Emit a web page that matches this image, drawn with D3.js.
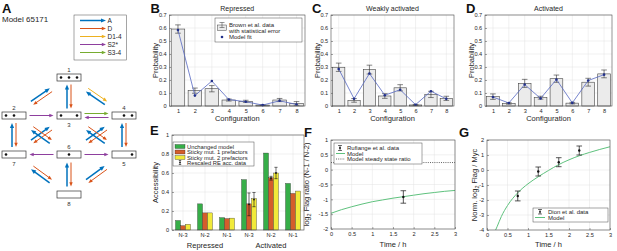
<!DOCTYPE html>
<html>
<head>
<meta charset="utf-8">
<script src="https://cdn.jsdelivr.net/npm/d3@7"></script>
<style>
    body { margin: 0; background: #fff; }
    svg { font-family: "Liberation Sans", Arial, sans-serif; }
</style>
</head>
<body>
<div id="figure"></div>
<script>

// ---- panel A: model network ----
const nodeIds = [1, 2, 3, 4, 5, 6, 7, 8];
const nodeOccupancy = ["111", "110", "101", "011", "001", "010", "100", "000"];
const transitionTypes = ["A", "D", "D1-4", "S2*", "S3-4"];
const transitions = [
    [2, 1, "A"], [1, 2, "D"], [3, 1, "A"], [1, 3, "D"], [4, 1, "A"], [1, 4, "D1-4"],
    [2, 3, "S2*"], [3, 4, "S3-4"], [4, 3, "S2*"],
    [7, 2, "A"], [2, 7, "D"], [7, 3, "A"], [3, 7, "D"], [6, 2, "A"], [2, 6, "D"],
    [6, 4, "A"], [4, 6, "D"], [5, 3, "A"], [3, 5, "D"], [5, 4, "A"], [4, 5, "D"],
    [6, 7, "S2*"], [6, 5, "S2*"],
    [8, 7, "A"], [7, 8, "D"], [8, 6, "A"], [6, 8, "D"], [8, 5, "A"], [5, 8, "D"]
];

// ---- panels B-D: configuration probabilities ----
const configurations = [1, 2, 3, 4, 5, 6, 7, 8];
const probTicks = [0, 0.1, 0.2, 0.3, 0.4, 0.5, 0.6, 0.7];

const repressedProb = [0.592, 0.118, 0.133, 0.046, 0.036, 0.007, 0.046, 0.02];
const repressedErr  = [0.032, 0.02, 0.024, 0.008, 0.008, 0.003, 0.012, 0.014];
const repressedFit  = [0.585, 0.08, 0.192, 0.05, 0.033, 0.007, 0.04, 0.012];

const weakProb = [0.298, 0.043, 0.28, 0.077, 0.14, 0.008, 0.089, 0.059];
const weakErr  = [0.032, 0.014, 0.034, 0.018, 0.024, 0.004, 0.024, 0.016];
const weakFit  = [0.285, 0.056, 0.25, 0.083, 0.125, 0.01, 0.114, 0.055];

const activatedProb = [0.072, 0.02, 0.174, 0.064, 0.21, 0.022, 0.183, 0.247];
const activatedErr  = [0.021, 0.006, 0.031, 0.011, 0.028, 0.006, 0.03, 0.03];
const activatedFit  = [0.069, 0.023, 0.165, 0.058, 0.204, 0.024, 0.196, 0.241];

// ---- panel E: accessibility ----
const accCategories = ["N-3", "N-2", "N-1", "N-3", "N-2", "N-1"];
const accGroups = ["Repressed", "Activated"];
const accTicks = [0, 0.2, 0.4, 0.6, 0.8, 1];
const accUnchanged = [0.10, 0.275, 0.13, 0.53, 0.81, 0.49];
const accSticky1 = [0.045, 0.18, 0.12, 0.275, 0.55, 0.385];
const accSticky2 = [0.06, 0.18, 0.125, 0.33, 0.60, 0.41];
const accDataIndex = [3, 4];
const accData1 = [0.27, 0.545];
const accErr1 = [0.12, 0.02];
const accData2 = [0.32, 0.60];
const accErr2 = [0.075, 0.06];

// ---- panel F: Flag ratio ----
const timeTicks = [0, 0.5, 1, 1.5, 2, 2.5, 3];
const ratioTicks = [-2, -1.5, -1, -0.5, 0, 0.5, 1];
const ratioModelTime = [0, 0.25, 0.5, 0.75, 1, 1.25, 1.5, 1.75, 2, 2.25, 2.5, 2.75, 3];
const ratioModel = [-1.47, -1.35, -1.25, -1.16, -1.08, -1.02, -0.96, -0.91, -0.86, -0.81, -0.77, -0.73, -0.7];
const ratioObsTime = [1.75];
const ratioObs = [-0.92];
const ratioObsErr = [0.21];
const steadyStateRatio = 0.24;

// ---- panel G: normalised Flag / Myc ----
const flagTicks = [-4, -3, -2, -1, 0, 1, 2];
const flagModelTime = [0.21, 0.25, 0.35, 0.5, 0.75, 1, 1.25, 1.5, 1.75, 2, 2.25, 2.5, 2.75, 3];
const flagModel = [-4.0, -3.75, -3.1, -2.37, -1.52, -0.92, -0.45, -0.03, 0.36, 0.68, 0.95, 1.17, 1.37, 1.55];
const dionTime = [0.75, 1.25, 1.75, 2.25];
const dionValue = [-1.73, -0.1, 0.52, 1.3];
const dionErr = [0.33, 0.3, 0.3, 0.3];


const svg = d3.select("#figure").append("svg")
    .attr("width", 617)
    .attr("height", 251);

const typeColor = d3.scaleOrdinal()
    .domain(transitionTypes)
    .range(["#0072BD", "#D95319", "#EDB120", "#8E3F9E", "#77AC30"]);

const axisColor = "#4d4d4d";
const textColor = "#262626";
const modelGreen = "#5fc27e";
const fmt = d => String(+d.toFixed(2));

function panelLetter(x, y, letter) {
    svg.append("text").attr("x", x).attr("y", y)
        .attr("font-size", 13).attr("font-weight", "bold").attr("fill", "#111")
        .text(letter);
}

function arrow(g, x1, y1, x2, y2, color, w) {
    let dx = x2 - x1, dy = y2 - y1, len = Math.hypot(dx, dy);
    let ux = dx / len, uy = dy / len;
    let hl = w > 1.2 ? 5 : 4.2, hw = w > 1.2 ? 2.1 : 1.7;
    let bx = x2 - ux * hl, by = y2 - uy * hl;
    g.append("line")
        .attr("x1", x1).attr("y1", y1).attr("x2", bx + ux).attr("y2", by + uy)
        .attr("stroke", color).attr("stroke-width", w);
    g.append("path")
        .attr("d", `M${x2},${y2}L${bx - uy * hw},${by + ux * hw}L${bx + uy * hw},${by - ux * hw}Z`)
        .attr("fill", color);
}

function styleAxis(sel) {
    sel.select(".domain").remove();
    sel.attr("font-family", null).attr("font-size", 5.6);
    sel.selectAll(".tick line").attr("stroke", axisColor).attr("stroke-width", 0.5);
    sel.selectAll(".tick text").attr("fill", textColor);
}

// grid, ticks and box in MATLAB style
function drawFrame(g, x, y, xTicks, yTicks, xFormat) {
    let [x0, x1] = x.range();
    let [y0, y1] = y.range();
    let gridX = xTicks.map(d => x.bandwidth ? x(d) + x.bandwidth() / 2 : x(d));

    g.append("g").selectAll("line").data(gridX).join("line")
        .attr("x1", d => d).attr("x2", d => d).attr("y1", y0).attr("y2", y1)
        .attr("stroke", "#e2e2e2").attr("stroke-width", 0.5);
    g.append("g").selectAll("line").data(yTicks).join("line")
        .attr("x1", x0).attr("x2", x1).attr("y1", d => y(d)).attr("y2", d => y(d))
        .attr("stroke", "#e2e2e2").attr("stroke-width", 0.5);

    g.append("g").attr("class", "x-axis")
        .attr("transform", `translate(0, ${y0})`)
        .call(d3.axisBottom(x).tickValues(xTicks).tickSize(-2).tickPadding(3.2).tickFormat(xFormat))
        .call(styleAxis);
    g.append("g").attr("class", "y-axis")
        .attr("transform", `translate(${x0}, 0)`)
        .call(d3.axisLeft(y).tickValues(yTicks).tickSize(-2).tickPadding(2.8).tickFormat(fmt))
        .call(styleAxis);
}

function drawBox(g, x0, x1, y0, y1) {
    g.append("rect")
        .attr("x", x0).attr("y", y1).attr("width", x1 - x0).attr("height", y0 - y1)
        .attr("fill", "none").attr("stroke", axisColor).attr("stroke-width", 0.6);
}

function axisLabels(g, xLabel, xPos, yPos, yLabelX, yLabelY, yLabel) {
    g.append("text")
        .attr("x", xPos).attr("y", yPos)
        .attr("text-anchor", "middle").attr("font-size", 7.5).attr("fill", textColor)
        .text(xLabel);
    let t = g.append("text")
        .attr("transform", `translate(${yLabelX}, ${yLabelY}) rotate(-90)`)
        .attr("text-anchor", "middle").attr("font-size", 7.5).attr("fill", textColor);
    yLabel(t);
}

function errorBar(g, cx, yTop, yBot, cap, color, w) {
    g.append("line").attr("x1", cx).attr("x2", cx).attr("y1", yTop).attr("y2", yBot)
        .attr("stroke", color).attr("stroke-width", w);
    [yTop, yBot].forEach(v => {
        g.append("line").attr("x1", cx - cap).attr("x2", cx + cap).attr("y1", v).attr("y2", v)
            .attr("stroke", color).attr("stroke-width", w);
    });
}

function legendBox(g, x, y, w, h) {
    g.append("rect").attr("x", x).attr("y", y).attr("width", w).attr("height", h)
        .attr("fill", "#fff").attr("stroke", axisColor).attr("stroke-width", 0.5);
}

function legendText(g, x, y, str, size) {
    g.append("text").attr("x", x).attr("y", y).attr("dy", "0.35em")
        .attr("font-size", size || 6).attr("fill", textColor).text(str);
}


/*
 *  Panel A - model network
 */
function drawNetwork() {
    let g = svg.append("g").attr("class", "network");
    panelLetter(2, 13, "A");
    g.append("text").attr("x", 2).attr("y", 21.5)
        .attr("font-size", 8).attr("fill", textColor).text("Model 65171");

    // legend
    legendBox(g, 74, 15, 52.5, 45);
    let legendY = d3.scalePoint().domain(transitionTypes).range([20.5, 52.5]);
    transitionTypes.forEach(t => {
        arrow(g, 80, legendY(t), 106, legendY(t), typeColor(t), t === "A" ? 1.5 : 1);
        legendText(g, 107.5, legendY(t) + 0.3, t, 6.5);
    });

    let grid = {1: [1, 0], 2: [0, 1], 3: [1, 1], 4: [2, 1], 5: [2, 2], 6: [1, 2], 7: [0, 2], 8: [1, 3]};
    let labelBelow = [3, 5, 7, 8];
    let colX = d3.scaleLinear().domain([0, 2]).range([14, 124]);
    let rowY = d3.scaleLinear().domain([0, 1, 2, 3]).range([77.5, 115.5, 154.5, 194.5]);
    let centre = id => [colX(grid[id][0]), rowY(grid[id][1])];

    // transitions as pairs of antiparallel arrows
    transitions.forEach(([from, to, type]) => {
        let [x1, y1] = centre(from), [x2, y2] = centre(to);
        let paired = transitions.some(t => t[0] === to && t[1] === from);
        let dx = x2 - x1, dy = y2 - y1, len = Math.hypot(dx, dy);
        let ux = dx / len, uy = dy / len;
        let off = paired ? 2 : 0;
        let L = (dx !== 0 && dy !== 0) ? 23 : 24;
        let mx = (x1 + x2) / 2 + uy * off, my = (y1 + y2) / 2 - ux * off;
        arrow(g, mx - ux * L / 2, my - uy * L / 2, mx + ux * L / 2, my + uy * L / 2,
            typeColor(type), type === "A" ? 1.5 : 1);
    });

    // configuration boxes
    nodeIds.forEach((id, i) => {
        let [cx, cy] = centre(id);
        g.append("rect").attr("x", cx - 12).attr("y", cy - 3.5).attr("width", 24).attr("height", 7)
            .attr("fill", "#fff").attr("stroke", "#333").attr("stroke-width", 0.7);
        nodeOccupancy[i].split("").forEach((o, k) => {
            if (o === "1") {
                g.append("circle").attr("cx", cx - 8 + k * 8).attr("cy", cy).attr("r", 1.3).attr("fill", "#111");
            }
        });
        let below = labelBelow.includes(id);
        g.append("text").attr("x", cx).attr("y", below ? cy + 11.5 : cy - 5.5)
            .attr("text-anchor", "middle").attr("font-size", 6).attr("fill", "#333").text(id);
    });
}


/*
 *  Panels B-D - configuration probabilities
 */
function drawConfigPanel(letter, title, area, prob, err, fit, withLegend) {
    let g = svg.append("g");
    let x = d3.scaleLinear().domain([0.5, 8.5]).range([area.left, area.right]);
    let y = d3.scaleLinear().domain([0, 0.7]).range([area.bottom, area.top]);

    panelLetter(area.left - 19, 13, letter);
    g.append("text").attr("x", (area.left + area.right) / 2).attr("y", 11)
        .attr("text-anchor", "middle").attr("font-size", 7).attr("fill", textColor).text(title);

    drawFrame(g, x, y, configurations, probTicks, d => d);

    let bw = x(1.4) - x(0.6);
    g.append("g").selectAll("rect").data(configurations).join("rect")
        .attr("x", d => x(d) - bw / 2).attr("width", bw)
        .attr("y", (d, i) => y(prob[i])).attr("height", (d, i) => y(0) - y(prob[i]))
        .attr("fill", "#ebebeb").attr("stroke", "#444").attr("stroke-width", 0.6);

    configurations.forEach((c, i) => {
        errorBar(g, x(c), y(prob[i] + err[i]), y(prob[i] - err[i]), 2.8, "#333", 0.6);
    });

    let pts = configurations.map((c, i) => [c, fit[i]]);
    g.append("path").datum(pts)
        .attr("fill", "none").attr("stroke", "#5567c2").attr("stroke-width", 0.8)
        .attr("d", d3.line().x(d => x(d[0])).y(d => y(d[1])));
    g.append("g").selectAll("circle").data(pts).join("circle")
        .attr("cx", d => x(d[0])).attr("cy", d => y(d[1])).attr("r", 1.3).attr("fill", "#22308a");

    drawBox(g, area.left, area.right, area.bottom, area.top);
    axisLabels(g, "Configuration", (area.left + area.right) / 2, 121,
        area.left - 11.5, (area.top + area.bottom) / 2, t => t.text("Probability"));

    if (withLegend) {
        legendBox(g, 215, 18, 87, 24);
        g.append("rect").attr("x", 217.5).attr("y", 25).attr("width", 9).attr("height", 5.5)
            .attr("fill", "#ebebeb").attr("stroke", "#444").attr("stroke-width", 0.5);
        errorBar(g, 222, 22.5, 27.5, 2.5, "#333", 0.5);
        g.append("circle").attr("cx", 222).attr("cy", 37).attr("r", 1.3).attr("fill", "#22308a");
        legendText(g, 229, 24.5, "Brown et al. data");
        legendText(g, 229, 30.5, "with statistical error");
        legendText(g, 229, 37, "Model fit");
    }
}


/*
 *  Panel E - accessibility
 */
function drawAccessibility() {
    let g = svg.append("g");
    let area = {left: 172, right: 304, top: 135, bottom: 230};
    let idx = d3.range(accCategories.length);
    let x = d3.scaleBand().domain(idx).range([area.left, area.right]).paddingInner(0.32).paddingOuter(0.16);
    let inner = d3.scaleBand().domain([0, 1, 2]).range([0, x.bandwidth()]);
    let y = d3.scaleLinear().domain([0, 1]).range([area.bottom, area.top]);
    let series = [accUnchanged, accSticky1, accSticky2];
    let colors = ["#36ae48", "#d45d2b", "#f1ea3a"];

    panelLetter(150, 135, "E");
    drawFrame(g, x, y, idx, accTicks, i => accCategories[i]);

    series.forEach((vals, s) => {
        g.append("g").selectAll("rect").data(idx).join("rect")
            .attr("x", i => x(i) + inner(s)).attr("width", inner.bandwidth())
            .attr("y", i => y(vals[i])).attr("height", i => y(0) - y(vals[i]))
            .attr("fill", colors[s]).attr("stroke", "#2a2a2a").attr("stroke-width", 0.35);
    });

    [[accData1, accErr1, 1], [accData2, accErr2, 2]].forEach(([vals, errs, s]) => {
        accDataIndex.forEach((i, k) => {
            let cx = x(i) + inner(s) + inner.bandwidth() / 2;
            errorBar(g, cx, y(vals[k] + errs[k]), y(vals[k] - errs[k]), 1.6, "#111", 0.6);
            g.append("circle").attr("cx", cx).attr("cy", y(vals[k])).attr("r", 0.9).attr("fill", "#111");
        });
    });

    drawBox(g, area.left, area.right, area.bottom, area.top);

    accGroups.forEach((grp, k) => {
        let mid = x(k * 3 + 1) + x.bandwidth() / 2;
        g.append("text").attr("x", mid).attr("y", 248)
            .attr("text-anchor", "middle").attr("font-size", 7.5).attr("fill", textColor).text(grp);
    });
    axisLabels(g, "", 0, 0, 158, (area.top + area.bottom) / 2, t => t.text("Accessibility"));

    // legend
    legendBox(g, 173, 142, 81, 24);
    let rows = [146.5, 152, 157.5, 162.5];
    ["Unchanged model", "Sticky mut. 1 prefactors", "Sticky mut. 2 prefactors"].forEach((label, s) => {
        g.append("rect").attr("x", 175).attr("y", rows[s] - 2).attr("width", 10).attr("height", 4)
            .attr("fill", colors[s]).attr("stroke", "#2a2a2a").attr("stroke-width", 0.35);
        legendText(g, 187, rows[s], label, 5.8);
    });
    errorBar(g, 180, rows[3] - 2, rows[3] + 2, 1.2, "#111", 0.6);
    g.append("circle").attr("cx", 180).attr("cy", rows[3]).attr("r", 0.8).attr("fill", "#111");
    legendText(g, 187, rows[3], "Rescaled RE acc. data", 5.8);
}


/*
 *  Panel F - Flag ratio over time
 */
function drawRatio() {
    let g = svg.append("g");
    let area = {left: 331, right: 455, top: 140, bottom: 229};
    let x = d3.scaleLinear().domain([0, 3]).range([area.left, area.right]);
    let y = d3.scaleLinear().domain([-2, 1]).range([area.bottom, area.top]);

    panelLetter(304, 137, "F");
    drawFrame(g, x, y, timeTicks, ratioTicks, fmt);

    g.append("line").attr("x1", x(0)).attr("x2", x(3))
        .attr("y1", y(steadyStateRatio)).attr("y2", y(steadyStateRatio))
        .attr("stroke", "#222").attr("stroke-width", 0.7).attr("stroke-dasharray", "1,1.2");

    g.append("path").datum(ratioModelTime.map((t, i) => [t, ratioModel[i]]))
        .attr("fill", "none").attr("stroke", modelGreen).attr("stroke-width", 1)
        .attr("d", d3.line().curve(d3.curveMonotoneX).x(d => x(d[0])).y(d => y(d[1])));

    ratioObsTime.forEach((t, i) => {
        errorBar(g, x(t), y(ratioObs[i] + ratioObsErr[i]), y(ratioObs[i] - ratioObsErr[i]), 2.8, "#111", 0.7);
        g.append("circle").attr("cx", x(t)).attr("cy", y(ratioObs[i])).attr("r", 1.2).attr("fill", "#111");
    });

    drawBox(g, area.left, area.right, area.bottom, area.top);
    axisLabels(g, "Time / h", (area.left + area.right) / 2, 247, 308.5, (area.top + area.bottom) / 2, t => {
        t.append("tspan").text("log");
        t.append("tspan").attr("font-size", 5.5).attr("dy", 2).text("2");
        t.append("tspan").attr("dy", -2).text(" Flag ratio (N-1 / N-2)");
    });

    legendBox(g, 334, 143, 88, 21);
    errorBar(g, 340, 145.5, 150.5, 2, "#111", 0.6);
    g.append("circle").attr("cx", 340).attr("cy", 148).attr("r", 0.9).attr("fill", "#111");
    g.append("line").attr("x1", 336).attr("x2", 345).attr("y1", 153.5).attr("y2", 153.5)
        .attr("stroke", modelGreen).attr("stroke-width", 1);
    g.append("line").attr("x1", 336).attr("x2", 345).attr("y1", 159).attr("y2", 159)
        .attr("stroke", "#222").attr("stroke-width", 0.7).attr("stroke-dasharray", "1,1.2");
    legendText(g, 347, 148, "Rufiange et al. data");
    legendText(g, 347, 153.5, "Model");
    legendText(g, 347, 159, "Model steady state ratio");
}


/*
 *  Panel G - normalised Flag / Myc over time
 */
function drawFlagMyc() {
    let g = svg.append("g");
    let area = {left: 487, right: 610, top: 140, bottom: 230};
    let x = d3.scaleLinear().domain([0, 3]).range([area.left, area.right]);
    let y = d3.scaleLinear().domain([-4, 2]).range([area.bottom, area.top]);

    panelLetter(459, 137, "G");
    drawFrame(g, x, y, timeTicks, flagTicks, fmt);

    g.append("clipPath").attr("id", "clip-g").append("rect")
        .attr("x", area.left).attr("y", area.top)
        .attr("width", area.right - area.left).attr("height", area.bottom - area.top);
    g.append("path").datum(flagModelTime.map((t, i) => [t, flagModel[i]]))
        .attr("clip-path", "url(#clip-g)")
        .attr("fill", "none").attr("stroke", modelGreen).attr("stroke-width", 1)
        .attr("d", d3.line().curve(d3.curveMonotoneX).x(d => x(d[0])).y(d => y(d[1])));

    dionTime.forEach((t, i) => {
        errorBar(g, x(t), y(dionValue[i] + dionErr[i]), y(dionValue[i] - dionErr[i]), 2.8, "#111", 0.7);
        g.append("circle").attr("cx", x(t)).attr("cy", y(dionValue[i])).attr("r", 1.2).attr("fill", "#111");
    });

    drawBox(g, area.left, area.right, area.bottom, area.top);
    axisLabels(g, "Time / h", (area.left + area.right) / 2, 247, 477, (area.top + area.bottom) / 2, t => {
        t.append("tspan").text("Norm. log");
        t.append("tspan").attr("font-size", 5.5).attr("dy", 2).text("2");
        t.append("tspan").attr("dy", -2).text(" Flag / Myc");
    });

    legendBox(g, 533, 208, 75, 14);
    errorBar(g, 540, 209.5, 214, 2, "#111", 0.6);
    g.append("circle").attr("cx", 540).attr("cy", 211.8).attr("r", 0.9).attr("fill", "#111");
    g.append("line").attr("x1", 535).attr("x2", 545).attr("y1", 217.5).attr("y2", 217.5)
        .attr("stroke", modelGreen).attr("stroke-width", 1);
    legendText(g, 548, 212, "Dion et al. data");
    legendText(g, 548, 217.5, "Model");
}


drawNetwork();
drawConfigPanel("B", "Repressed", {left: 169.5, right: 305, top: 15, bottom: 106},
    repressedProb, repressedErr, repressedFit, true);
drawConfigPanel("C", "Weakly activated", {left: 331, right: 454, top: 15, bottom: 106},
    weakProb, weakErr, weakFit, false);
drawConfigPanel("D", "Activated", {left: 485, right: 612, top: 15, bottom: 106},
    activatedProb, activatedErr, activatedFit, false);
drawAccessibility();
drawRatio();
drawFlagMyc();

</script>
</body>
</html>
